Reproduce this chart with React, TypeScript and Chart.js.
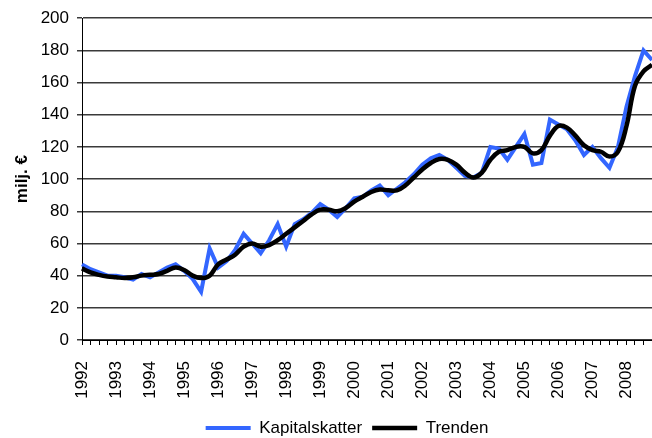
import React, { useEffect, useRef } from "react";
import { Chart, registerables } from "chart.js";

Chart.register(...registerables);

const years = [1992, 1993, 1994, 1995, 1996, 1997, 1998, 1999, 2000, 2001, 2002, 2003, 2004, 2005, 2006, 2007, 2008];
const quarters = ["Q1", "Q2", "Q3", "Q4"];
const categories: string[] = years.flatMap((y) => quarters.map((q) => `${y} ${q}`));

const kapitalskatter = [
  47, 44, 42, 40,
  40, 39, 37.5, 41,
  39, 42, 45, 47,
  43, 38, 30, 57,
  45, 49, 56, 66,
  60, 54, 62, 72,
  58, 72, 75, 79,
  84.5, 81, 76.5, 82,
  88, 89, 93, 96,
  90, 94, 98, 103,
  109, 113, 115, 112,
  107, 102, 101, 104,
  120, 119, 112, 120,
  128, 109, 110, 137,
  134, 131, 124, 115,
  120, 113, 107, 120,
  145, 164, 180, 174,
];

const trenden = [
  44.5, 42, 40.5, 39.5,
  39, 38.5, 39, 40,
  40.5, 41, 43, 45,
  43.5, 40, 38.5, 40,
  47, 50, 53, 58,
  60, 58, 59, 62,
  66, 70, 74, 78,
  81, 81, 80, 82,
  86, 89, 92, 93.5,
  93, 93, 96, 101,
  106, 110, 112.5, 112,
  109, 104, 101, 104,
  112, 117, 118, 120,
  120, 116, 118, 127,
  133, 132, 127, 121,
  118, 117, 114, 117,
  133, 158, 167, 171,
];

const yTicks = [0, 20, 40, 60, 80, 100, 120, 140, 160, 180, 200];
const seriesNames = ["Kapitalskatter", "Trenden"];

const FONT = "'Liberation Sans', Arial, sans-serif";

export default function App() {
  const ref = useRef<HTMLCanvasElement | null>(null);

  useEffect(() => {
    if (!ref.current) return;
    const legendShift = {
      id: "legendShift",
      afterLayout(chart: any) {
        const l = chart.legend;
        if (!l) return;
        l.left += 21;
        l.right += 21;
        l.top += 8.5;
        l.bottom += 8.5;
      },
    };
    const chart = new Chart(ref.current, {
      type: "line",
      data: {
        labels: categories,
        datasets: [
          {
            label: seriesNames[0],
            data: kapitalskatter,
            borderColor: "#3366ff",
            backgroundColor: "#3366ff",
            borderWidth: 4,
            pointRadius: 0,
            tension: 0,
            order: 2,
          },
          {
            label: seriesNames[1],
            data: trenden,
            borderColor: "#000000",
            backgroundColor: "#000000",
            borderWidth: 4.5,
            pointRadius: 0,
            tension: 0.4,
            order: 1,
          },
        ],
      },
      plugins: [legendShift],
      options: {
        animation: false,
        responsive: false,
        maintainAspectRatio: false,
        layout: { padding: { top: 15, right: 0, left: 0, bottom: 0 } },
        plugins: {
          tooltip: { enabled: false },
          legend: {
            position: "bottom",
            labels: {
              usePointStyle: true,
              pointStyle: "line",
              pointStyleWidth: 45,
              boxHeight: 4,
              padding: 10,
              color: "#000",
              font: { family: FONT, size: 17 },
              sort: (a: any, b: any) => a.datasetIndex - b.datasetIndex,
            },
          },
        },
        scales: {
          x: {
            type: "category",
            offset: false,
            afterFit: (s: any) => {
              s.height = 61;
              s.paddingLeft = 0;
              s.paddingRight = 0;
            },
            grid: {
              drawOnChartArea: false,
              drawTicks: true,
              tickLength: 5,
              color: "#000",
              lineWidth: 1,
            },
            border: { color: "#000", width: 1 },
            ticks: {
              autoSkip: false,
              maxRotation: 90,
              minRotation: 90,
              padding: 16,
              color: "#000",
              font: { family: FONT, size: 17 },
              callback: (_v: any, i: number) => (i % 4 === 0 ? String(years[i / 4]) : ""),
            },
          },
          y: {
            min: 0,
            max: 200,
            afterFit: (s: any) => {
              s.width = 82;
            },
            afterBuildTicks: (s: any) => {
              s.ticks = yTicks.map((v) => ({ value: v }));
            },
            grid: {
              color: "#3a3a3a",
              lineWidth: 1.5,
              tickLength: 5,
              drawTicks: true,
            },
            border: { color: "#000", width: 1 },
            ticks: {
              padding: 8,
              color: "#000",
              font: { family: FONT, size: 17 },
            },
            title: {
              display: true,
              text: "milj. €",
              color: "#000",
              padding: { top: 12, bottom: 0 },
              font: { family: FONT, size: 17, weight: "bold" },
            },
          },
        },
      },
    });
    return () => chart.destroy();
  }, []);

  return (
    <div style={{ position: "fixed", left: 0, top: 0, width: 652, height: 438, background: "#fff" }}>
      <canvas ref={ref} width={652} height={438} style={{ width: 652, height: 438, display: "block" }} />
    </div>
  );
}
